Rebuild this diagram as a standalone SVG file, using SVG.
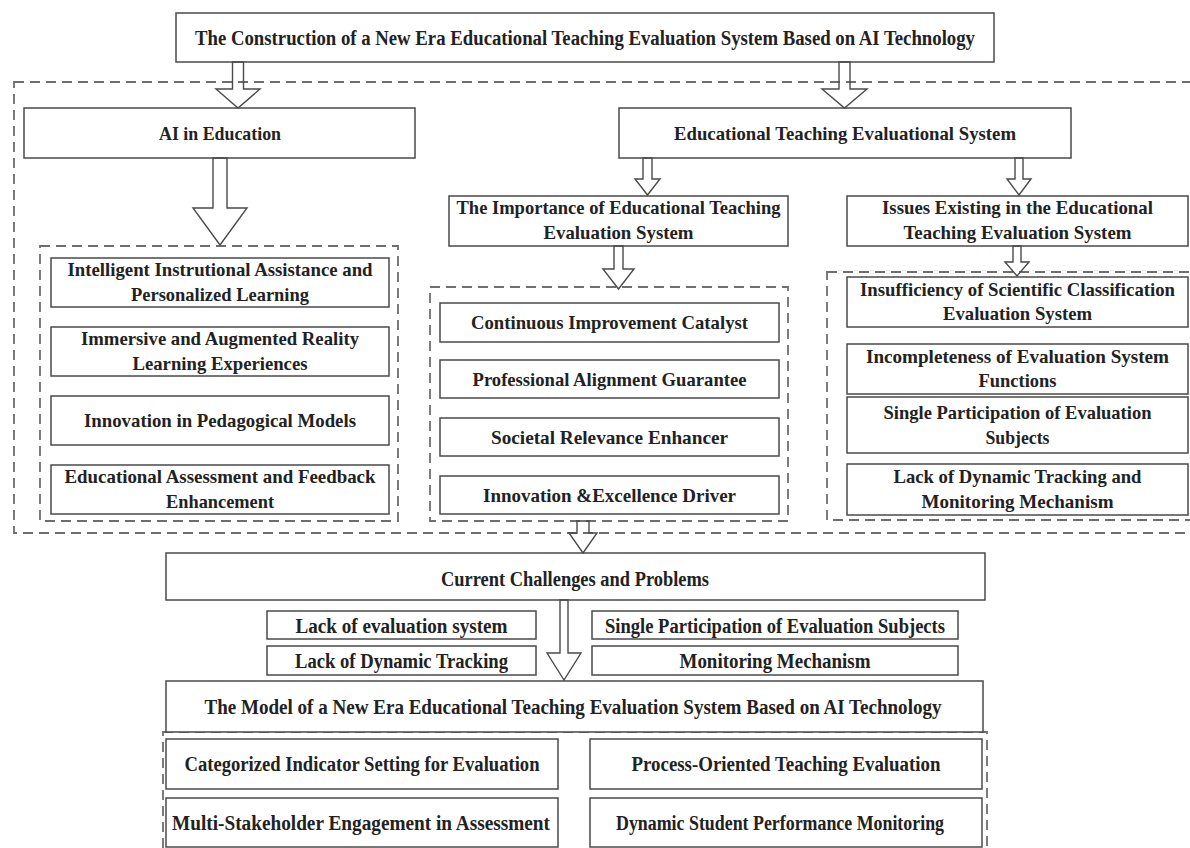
<svg xmlns="http://www.w3.org/2000/svg" width="1190" height="848" viewBox="0 0 1190 848">
<defs>
<style>
.bg{fill:#ffffff}
.box{fill:#ffffff;stroke:#4a4a4a;stroke-width:1.5}
.dash{fill:none;stroke:#6e6e6e;stroke-width:1.8;stroke-dasharray:10 6}
.arr{fill:none;stroke:#4a4a4a;stroke-width:1.4;stroke-linejoin:miter}
.t{font-family:"Liberation Serif","Times New Roman",serif;font-weight:bold;font-size:19px;fill:#222;text-anchor:middle}
.tt{font-size:20px}
</style>
</defs>
<rect class="bg" x="0" y="0" width="1190" height="848"/>

<g id="containers">
<rect class="dash" x="14" y="82" width="1200" height="451"/>
<rect class="dash" x="40" y="246" width="358" height="275"/>
<rect class="dash" x="430" y="287" width="358" height="234"/>
<rect class="dash" x="827" y="272" width="380" height="248"/>
<rect class="dash" x="163" y="732" width="824" height="130"/>
</g>

<g id="title">
<rect class="box" x="176" y="13" width="818" height="49"/>
<text class="t tt" x="585" y="45" textLength="780" lengthAdjust="spacingAndGlyphs">The Construction of a New Era Educational Teaching Evaluation System Based on AI Technology</text>
</g>

<g id="ai-education">
<rect class="box" x="24" y="108" width="391" height="50"/>
<text class="t" x="220" y="140" textLength="122" lengthAdjust="spacingAndGlyphs">AI in Education</text>
</g>

<g id="etes">
<rect class="box" x="619" y="108" width="452" height="50"/>
<text class="t" x="845" y="140" textLength="342" lengthAdjust="spacingAndGlyphs">Educational Teaching Evaluational System</text>
</g>

<g id="importance">
<rect class="box" x="449" y="196" width="339" height="50"/>
<text class="t" x="618.5" y="214" textLength="324" lengthAdjust="spacingAndGlyphs">The Importance of Educational Teaching</text>
<text class="t" x="618.5" y="239" textLength="150" lengthAdjust="spacingAndGlyphs">Evaluation System</text>
</g>

<g id="issues">
<rect class="box" x="847" y="196" width="341" height="50"/>
<text class="t" x="1017.5" y="214" textLength="271" lengthAdjust="spacingAndGlyphs">Issues Existing in the Educational</text>
<text class="t" x="1017.5" y="239" textLength="228" lengthAdjust="spacingAndGlyphs">Teaching Evaluation System</text>
</g>

<g id="ai-item-1">
<rect class="box" x="51" y="258" width="338" height="49"/>
<text class="t" x="220" y="276" textLength="305" lengthAdjust="spacingAndGlyphs">Intelligent Instrutional Assistance and</text>
<text class="t" x="220" y="301" textLength="178" lengthAdjust="spacingAndGlyphs">Personalized Learning</text>
</g>
<g id="ai-item-2">
<rect class="box" x="51" y="327" width="338" height="49"/>
<text class="t" x="220" y="345" textLength="278" lengthAdjust="spacingAndGlyphs">Immersive and Augmented Reality</text>
<text class="t" x="220" y="370" textLength="175" lengthAdjust="spacingAndGlyphs">Learning Experiences</text>
</g>
<g id="ai-item-3">
<rect class="box" x="51" y="396" width="338" height="49"/>
<text class="t" x="220" y="427" textLength="272" lengthAdjust="spacingAndGlyphs">Innovation in Pedagogical Models</text>
</g>
<g id="ai-item-4">
<rect class="box" x="51" y="465" width="338" height="49"/>
<text class="t" x="220" y="483" textLength="311" lengthAdjust="spacingAndGlyphs">Educational Assessment and Feedback</text>
<text class="t" x="220" y="508" textLength="108" lengthAdjust="spacingAndGlyphs">Enhancement</text>
</g>

<g id="imp-item-1">
<rect class="box" x="440" y="303" width="339" height="39"/>
<text class="t" x="609.5" y="329" textLength="277" lengthAdjust="spacingAndGlyphs">Continuous Improvement Catalyst</text>
</g>
<g id="imp-item-2">
<rect class="box" x="440" y="360" width="339" height="38"/>
<text class="t" x="609.5" y="386" textLength="274" lengthAdjust="spacingAndGlyphs">Professional Alignment Guarantee</text>
</g>
<g id="imp-item-3">
<rect class="box" x="440" y="418" width="339" height="38"/>
<text class="t" x="609.5" y="444" textLength="237" lengthAdjust="spacingAndGlyphs">Societal Relevance Enhancer</text>
</g>
<g id="imp-item-4">
<rect class="box" x="440" y="476" width="339" height="38"/>
<text class="t" x="609.5" y="502" textLength="253" lengthAdjust="spacingAndGlyphs">Innovation &amp;Excellence Driver</text>
</g>

<g id="iss-item-1">
<rect class="box" x="847" y="277" width="341" height="50"/>
<text class="t" x="1017.5" y="296" textLength="315" lengthAdjust="spacingAndGlyphs">Insufficiency of Scientific Classification</text>
<text class="t" x="1017.5" y="320" textLength="149" lengthAdjust="spacingAndGlyphs">Evaluation System</text>
</g>
<g id="iss-item-2">
<rect class="box" x="847" y="344" width="341" height="50"/>
<text class="t" x="1017.5" y="363" textLength="303" lengthAdjust="spacingAndGlyphs">Incompleteness of Evaluation System</text>
<text class="t" x="1017.5" y="387" textLength="78" lengthAdjust="spacingAndGlyphs">Functions</text>
</g>
<g id="iss-item-3">
<rect class="box" x="847" y="397" width="341" height="56"/>
<text class="t" x="1017.5" y="419" textLength="268" lengthAdjust="spacingAndGlyphs">Single Participation of Evaluation</text>
<text class="t" x="1017.5" y="444" textLength="64" lengthAdjust="spacingAndGlyphs">Subjects</text>
</g>
<g id="iss-item-4">
<rect class="box" x="847" y="464" width="341" height="51"/>
<text class="t" x="1017.5" y="483" textLength="248" lengthAdjust="spacingAndGlyphs">Lack of Dynamic Tracking and</text>
<text class="t" x="1017.5" y="508" textLength="192" lengthAdjust="spacingAndGlyphs">Monitoring Mechanism</text>
</g>

<g id="challenges">
<rect class="box" x="166" y="553" width="819" height="47"/>
<text class="t tt" x="575" y="586" textLength="268" lengthAdjust="spacingAndGlyphs">Current Challenges and Problems</text>
</g>
<g id="ch-1">
<rect class="box" x="267" y="611" width="269" height="28"/>
<text class="t tt" x="401.5" y="633" textLength="212" lengthAdjust="spacingAndGlyphs">Lack of evaluation system</text>
</g>
<g id="ch-2">
<rect class="box" x="592" y="611" width="366" height="28"/>
<text class="t tt" x="775" y="633" textLength="340" lengthAdjust="spacingAndGlyphs">Single Participation of Evaluation Subjects</text>
</g>
<g id="ch-3">
<rect class="box" x="267" y="646" width="269" height="29"/>
<text class="t tt" x="401.5" y="668" textLength="213" lengthAdjust="spacingAndGlyphs">Lack of Dynamic Tracking</text>
</g>
<g id="ch-4">
<rect class="box" x="592" y="646" width="366" height="29"/>
<text class="t tt" x="775" y="668" textLength="191" lengthAdjust="spacingAndGlyphs">Monitoring Mechanism</text>
</g>

<g id="model">
<rect class="box" x="166" y="681" width="817" height="51"/>
<text class="t tt" x="573" y="714" textLength="737" lengthAdjust="spacingAndGlyphs">The  Model of a New Era Educational Teaching Evaluation System Based on AI Technology</text>
</g>
<g id="m-1">
<rect class="box" x="166" y="739" width="392" height="50"/>
<text class="t tt" x="362" y="771" textLength="355" lengthAdjust="spacingAndGlyphs">Categorized Indicator Setting for Evaluation</text>
</g>
<g id="m-2">
<rect class="box" x="590" y="739" width="392" height="50"/>
<text class="t tt" x="786" y="771" textLength="309" lengthAdjust="spacingAndGlyphs">Process-Oriented Teaching Evaluation</text>
</g>
<g id="m-3">
<rect class="box" x="166" y="798" width="392" height="49"/>
<text class="t tt" x="361" y="830" textLength="378" lengthAdjust="spacingAndGlyphs">Multi-Stakeholder Engagement in Assessment</text>
</g>
<g id="m-4">
<rect class="box" x="590" y="798" width="392" height="49"/>
<text class="t tt" x="780" y="830" textLength="328" lengthAdjust="spacingAndGlyphs">Dynamic Student Performance Monitoring</text>
</g>

<g id="connectors">
<polygon class="arr" points="232.5,62 232.5,89 216,89 238,108 260,89 243.5,89 243.5,62"/>
<polygon class="arr" points="839,62 839,89 822,89 844.5,108 867,89 850,89 850,62"/>
<polygon class="arr" points="213,158 213,208 193,208 220,245 247,208 227,208 227,158"/>
<polygon class="arr" points="643,158 643,179 635,179 647.5,195 660,179 652,179 652,158"/>
<polygon class="arr" points="1015,158 1015,179 1007,179 1019,195 1031,179 1023,179 1023,158"/>
<polygon class="arr" points="614,246 614,269 603,269 618.5,289 634,269 623,269 623,246"/>
<polygon class="arr" points="1013,246 1013,262 1005,262 1017,276 1029,262 1021,262 1021,246"/>
<polygon class="arr" points="577,521 577,533 569,533 583,553 597,533 589,533 589,521"/>
<polygon class="arr" points="560,600 560,653 547,653 564,680 581,653 568,653 568,600"/>
</g>
</svg>
